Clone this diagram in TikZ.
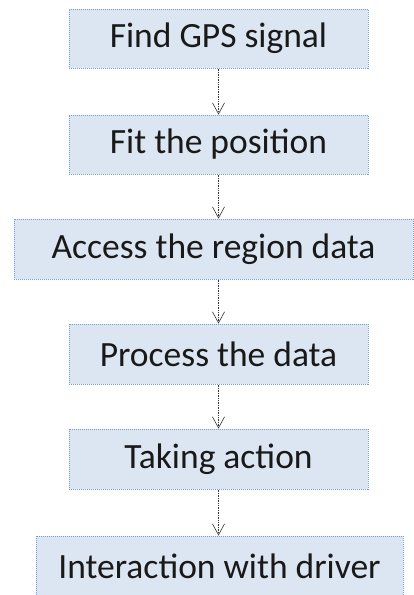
\documentclass[tikz,border=0pt]{standalone}
\usepackage{fontspec}
\setmainfont{Carlito}
\usetikzlibrary{arrows.meta}
\definecolor{cajaazul}{RGB}{220,230,242}
\definecolor{bordeazul}{RGB}{115,158,222}
\tikzset{
    caja/.style={draw=bordeazul, densely dotted, line width=1pt, fill=cajaazul,
        minimum height=59pt, inner sep=0pt, text=black!90, font=\fontsize{35.5}{40}\selectfont},
    flecha/.style={draw=black!80, densely dotted, line width=0.7pt,
        -{Straight Barb[length=11pt,width=12pt,line width=0.6pt]}}
}
\begin{document}
\begin{tikzpicture}[x=1pt,y=-1pt]
    % Marco de la imagen
    \useasboundingbox (0,0) rectangle (414,595);

    % Cajas del diagrama
    \node[caja, minimum width=299pt] (gps) at (218.5,38.5) {Find GPS signal};
    \node[caja, minimum width=299pt] (fit) at (218.5,144.5) {Fit the position};
    \node[caja, minimum width=399pt, minimum height=60pt] (acc) at (213.5,249) {Access the region data};
    \node[caja, minimum width=299pt, minimum height=60pt] (proc) at (218.5,354) {Process the data};
    \node[caja, minimum width=299pt, minimum height=60pt] (act) at (218.5,459) {Taking action};
    \node[caja, minimum width=367pt, minimum height=60pt] (drv) at (219.5,566) {Interaction with driver};

    % Flechas
    \draw[flecha] (gps.south) -- (fit.north);
    \draw[flecha] (fit.south) -- (fit.south |- acc.north);
    \draw[flecha] (fit.south |- acc.south) -- (proc.north);
    \draw[flecha] (proc.south) -- (act.north);
    \draw[flecha] (act.south) -- (act.south |- drv.north);
\end{tikzpicture}
\end{document}
